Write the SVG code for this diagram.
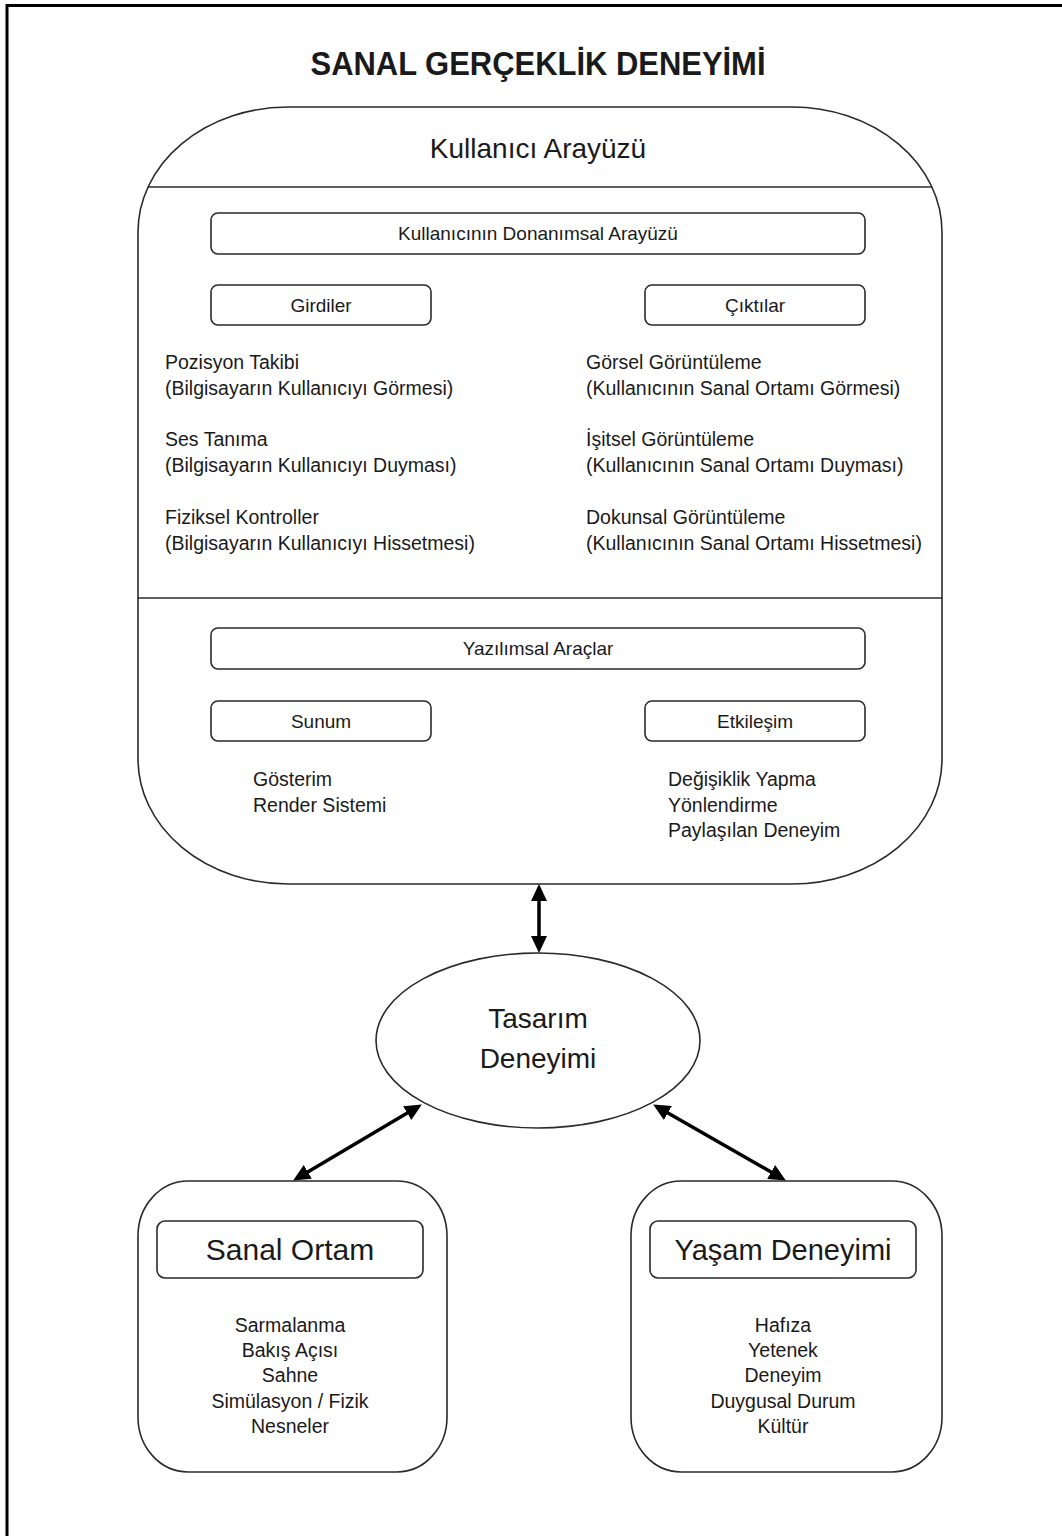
<svg xmlns="http://www.w3.org/2000/svg" width="1062" height="1536" viewBox="0 0 1062 1536">
  <style>
    text { font-family: "Liberation Sans", Arial, sans-serif; fill: #1a1a1a; }
    .title { font-size: 34px; font-weight: bold; text-anchor: middle; }
    .big { font-size: 28px; text-anchor: middle; }
    .head { font-size: 30px; text-anchor: middle; }
    .lbl { font-size: 19px; text-anchor: middle; }
    .body { font-size: 19.5px; }
    .bodyc { font-size: 19.5px; text-anchor: middle; }
    .shape { fill: #ffffff; stroke: #2a2a2a; stroke-width: 1.6; }
    .box { fill: #ffffff; stroke: #2a2a2a; stroke-width: 1.6; }
    .div { stroke: #2a2a2a; stroke-width: 1.6; fill: none; }
    .conn { stroke: #000000; stroke-width: 3.5; fill: none; marker-start: url(#ah); marker-end: url(#ah); }
  </style>
  <defs>
    <marker id="ah" markerUnits="userSpaceOnUse" markerWidth="18" markerHeight="16" viewBox="0 0 18 16" refX="3" refY="8" orient="auto-start-reverse">
      <path d="M0,0 L17,8 L0,16 z" fill="#000000"/>
    </marker>
  </defs>
  <rect width="1062" height="1536" fill="#ffffff"/>
  <path d="M7,1536 V5.5 H1062" fill="none" stroke="#000000" stroke-width="3"/>

  <text class="title" x="538" y="75" textLength="455" lengthAdjust="spacingAndGlyphs">SANAL GERÇEKLİK DENEYİMİ</text>

  <g id="kullanici-arayuzu">
    <rect class="shape" x="138" y="107" width="804" height="777" rx="150" ry="125"/>
    <text class="big" x="538" y="158">Kullanıcı Arayüzü</text>
    <line class="div" x1="148" y1="187" x2="932" y2="187"/>
    <line class="div" x1="138" y1="598" x2="942" y2="598"/>
  </g>

  <g id="donanimsal-arayuz">
    <rect class="box" x="211" y="213" width="654" height="41" rx="7"/>
    <text class="lbl" x="538" y="240">Kullanıcının Donanımsal Arayüzü</text>
  </g>
  <g id="girdiler">
    <rect class="box" x="211" y="285" width="220" height="40" rx="7"/>
    <text class="lbl" x="321" y="312">Girdiler</text>
    <text class="body" x="165" y="369">Pozisyon Takibi</text>
    <text class="body" x="165" y="395">(Bilgisayarın Kullanıcıyı Görmesi)</text>
    <text class="body" x="165" y="446">Ses Tanıma</text>
    <text class="body" x="165" y="472">(Bilgisayarın Kullanıcıyı Duyması)</text>
    <text class="body" x="165" y="524">Fiziksel Kontroller</text>
    <text class="body" x="165" y="550">(Bilgisayarın Kullanıcıyı Hissetmesi)</text>
  </g>
  <g id="ciktilar">
    <rect class="box" x="645" y="285" width="220" height="40" rx="7"/>
    <text class="lbl" x="755" y="312">Çıktılar</text>
    <text class="body" x="586" y="369">Görsel Görüntüleme</text>
    <text class="body" x="586" y="395">(Kullanıcının Sanal Ortamı Görmesi)</text>
    <text class="body" x="586" y="446">İşitsel Görüntüleme</text>
    <text class="body" x="586" y="472">(Kullanıcının Sanal Ortamı Duyması)</text>
    <text class="body" x="586" y="524">Dokunsal Görüntüleme</text>
    <text class="body" x="586" y="550">(Kullanıcının Sanal Ortamı Hissetmesi)</text>
  </g>
  <g id="yazilimsal-araclar">
    <rect class="box" x="211" y="628" width="654" height="41" rx="7"/>
    <text class="lbl" x="538" y="655">Yazılımsal Araçlar</text>
  </g>
  <g id="sunum">
    <rect class="box" x="211" y="701" width="220" height="40" rx="7"/>
    <text class="lbl" x="321" y="728">Sunum</text>
    <text class="body" x="253" y="786">Gösterim</text>
    <text class="body" x="253" y="812">Render Sistemi</text>
  </g>
  <g id="etkilesim">
    <rect class="box" x="645" y="701" width="220" height="40" rx="7"/>
    <text class="lbl" x="755" y="728">Etkileşim</text>
    <text class="body" x="668" y="786">Değişiklik Yapma</text>
    <text class="body" x="668" y="812">Yönlendirme</text>
    <text class="body" x="668" y="837">Paylaşılan Deneyim</text>
  </g>

  <g id="tasarim-deneyimi">
    <ellipse class="shape" cx="538" cy="1040.5" rx="162" ry="87.5"/>
    <text class="big" x="538" y="1028">Tasarım</text>
    <text class="big" x="538" y="1068">Deneyimi</text>
  </g>

  <g id="sanal-ortam">
    <rect class="shape" x="138" y="1181" width="309" height="291" rx="50" ry="55"/>
    <rect class="box" x="157" y="1221" width="266" height="57" rx="8"/>
    <text class="head" x="290" y="1260">Sanal Ortam</text>
    <text class="bodyc" x="290" y="1332">Sarmalanma</text>
    <text class="bodyc" x="290" y="1357">Bakış Açısı</text>
    <text class="bodyc" x="290" y="1382">Sahne</text>
    <text class="bodyc" x="290" y="1408">Simülasyon / Fizik</text>
    <text class="bodyc" x="290" y="1433">Nesneler</text>
  </g>

  <g id="yasam-deneyimi">
    <rect class="shape" x="631" y="1181" width="311" height="291" rx="50" ry="55"/>
    <rect class="box" x="650" y="1221" width="266" height="57" rx="8"/>
    <text class="head" x="783" y="1260" style="font-size:29px">Yaşam Deneyimi</text>
    <text class="bodyc" x="783" y="1332">Hafıza</text>
    <text class="bodyc" x="783" y="1357">Yetenek</text>
    <text class="bodyc" x="783" y="1382">Deneyim</text>
    <text class="bodyc" x="783" y="1408">Duygusal Durum</text>
    <text class="bodyc" x="783" y="1433">Kültür</text>
  </g>

  <g id="connectors">
    <path class="conn" d="M539,898 L539,939"/>
    <path class="conn" d="M409.8,1111.6 L305.2,1173.4"/>
    <path class="conn" d="M665.3,1111.5 L773.7,1173.5"/>
  </g>
</svg>
